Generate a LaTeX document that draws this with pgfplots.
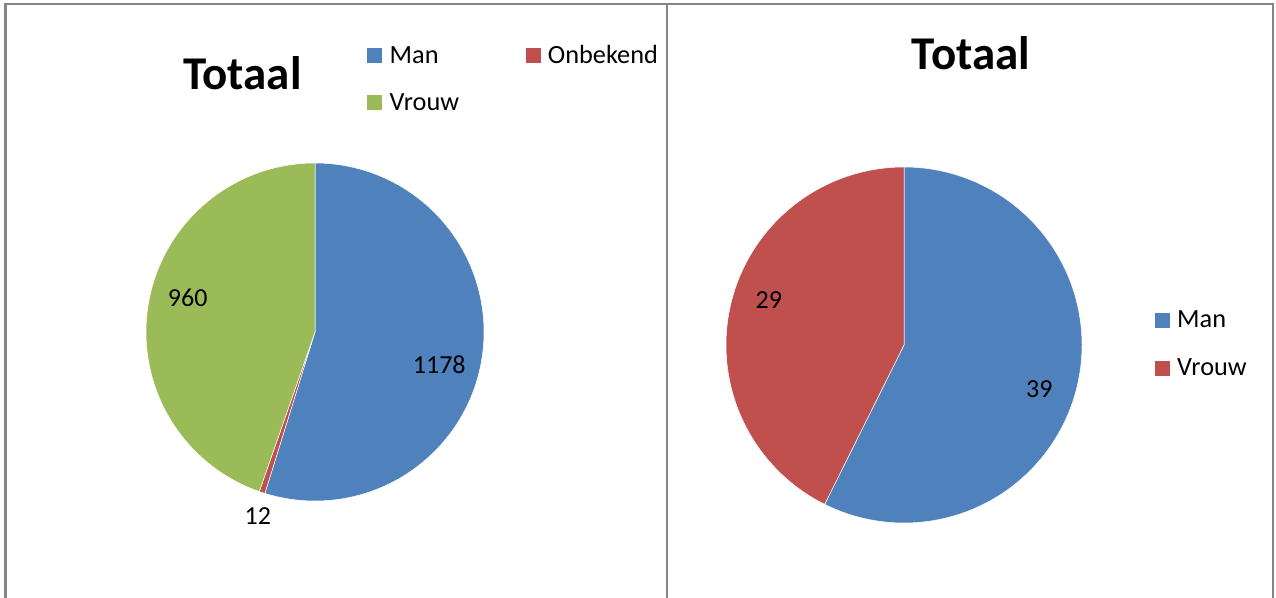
\documentclass[border=0pt]{standalone}
\usepackage{pgfplots}
\pgfplotsset{compat=1.18}
\usepackage{fontspec}
\setmainfont{Carlito}
\definecolor{xblue}{HTML}{4F81BD}
\definecolor{xred}{HTML}{C0504D}
\definecolor{xgreen}{HTML}{9BBB59}
\definecolor{frame}{HTML}{858585}

% data
\def\LMan{1178}\def\LOnb{12}\def\LVrouw{960}\def\LTot{2150}
\def\RMan{39}\def\RVrouw{29}\def\RTot{68}

\tikzset{
  lbl/.style={font=\fontsize{26bp}{30bp}\selectfont, inner sep=0pt},
  ttl/.style={font=\fontsize{47bp}{52bp}\selectfont\bfseries, inner sep=0pt, anchor=base},
  leg/.style={font=\fontsize{26.3bp}{30bp}\selectfont, inner sep=0pt, anchor=base west},
}

% #1 cx, #2 cy, #3 r, #4 cumulative start, #5 value, #6 total, #7 colour, #8 label radius factor, #9 label angle offset
\newcommand{\pieslice}[9]{%
  \pgfmathsetmacro\aHi{90-360*((#4)/(#6))}%
  \pgfmathsetmacro\aLo{90-360*((#4+#5)/(#6))}%
  \pgfmathsetmacro\lang{90-360*((#4+#5/2)/(#6))+#9}%
  \pgfmathsetmacro\lx{#1+#8*#3*cos(\lang)}%
  \pgfmathsetmacro\ly{#2+#8*#3*sin(\lang)}%
  \edef\doslice{%
    \noexpand\addplot[fill=#7, draw=white, line width=0.5bp, domain=\aLo:\aHi, samples=150, variable=\noexpand\t]
      ({#1+#3*cos(\noexpand\t)},{#2+#3*sin(\noexpand\t)}) -- (axis cs:#1,#2) -- cycle;
    \noexpand\node[lbl] at (axis cs:\lx,\ly) {#5};
  }%
  \doslice
}

\begin{document}
\begin{tikzpicture}
\path[use as bounding box] (0,0) rectangle (1276bp,598bp);
\begin{axis}[
  at={(0,0)}, anchor=south west,
  scale only axis, width=1276bp, height=598bp,
  xmin=0, xmax=1276, ymin=0, ymax=598,
  hide axis, clip=false,
]
% frames
\draw[frame, line width=2.2bp, line join=miter] (axis cs:5.5,0) -- (axis cs:5.5,594) -- (axis cs:1272.8,594) -- (axis cs:1272.8,0);
\draw[frame, line width=2.2bp] (axis cs:667,594) -- (axis cs:667,0);

% left pie
\pieslice{315}{266}{169}{0}{\LMan}{\LTot}{xblue}{0.76}{-6}
\pieslice{315}{266}{169}{1178}{\LOnb}{\LTot}{xred}{1.14}{1}
\pieslice{315}{266}{169}{1190}{\LVrouw}{\LTot}{xgreen}{0.78}{-5.5}

% right pie
\pieslice{904}{253}{178}{0}{\RMan}{\RTot}{xblue}{0.8}{-5}
\pieslice{904}{253}{178}{39}{\RVrouw}{\RTot}{xred}{0.8}{-5}

% titles
\node[ttl] at (axis cs:242.5,508) {Totaal};
\node[ttl] at (axis cs:971,528) {Totaal};

% left legend
\fill[xblue] (axis cs:367,535) rectangle (axis cs:382,550);
\node[leg] at (axis cs:389.5,534.7) {Man};
\fill[xred] (axis cs:526,535) rectangle (axis cs:541,550);
\node[leg] at (axis cs:547.7,534.7) {Onbekend};
\fill[xgreen] (axis cs:367,488) rectangle (axis cs:382,503);
\node[leg] at (axis cs:389.5,487.5) {Vrouw};

% right legend
\fill[xblue] (axis cs:1155,270.3) rectangle (axis cs:1170,285.3);
\node[leg] at (axis cs:1177,270) {Man};
\fill[xred] (axis cs:1155,222.3) rectangle (axis cs:1170,237.3);
\node[leg] at (axis cs:1177,222) {Vrouw};
\end{axis}
\end{tikzpicture}
\end{document}
